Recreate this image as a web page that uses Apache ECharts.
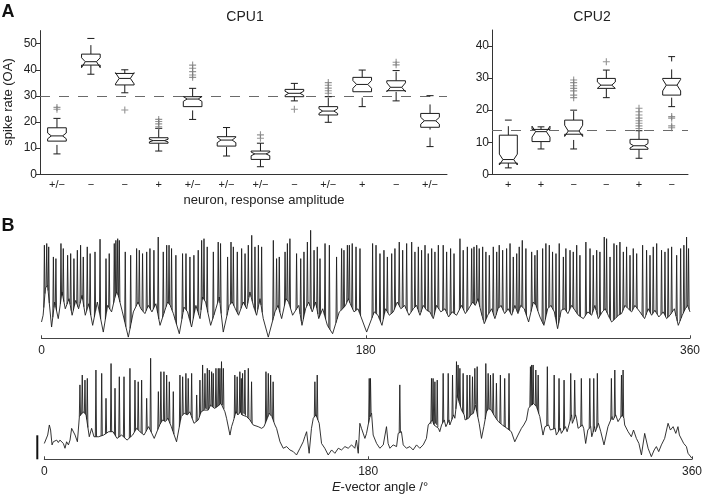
<!DOCTYPE html>
<html>
<head>
<meta charset="utf-8">
<script src="https://cdn.jsdelivr.net/npm/echarts@6/dist/echarts.min.js"></script>
<style>
  html, body { margin: 0; padding: 0; background: #fff; }
  #main { width: 705px; height: 497px; }
</style>
</head>
<body>
<div id="main"></div>
<script>
// ---- panel A: spike rates (OA) per neuron ----
const cpu1Labels = ['+/−', '−', '−', '+', '+/−', '+/−', '+/−', '−', '+/−', '+', '−', '+/−']
// [lower whisker, q1, median, q3, upper whisker, notch low, notch high]
const cpu1Boxes = [
  [7.8, 12.7, 14.7, 17.8, 21.4, 13.6, 15.8],
  [38.3, 41.8, 43.1, 46.0, 52.0, 40.8, 44.6],
  [31.2, 34.2, 36.7, 38.6, 40.0, 34.6, 38.9],
  [8.9, 11.9, 12.9, 14.0, 17.6, 12.4, 13.4],
  [21.0, 25.9, 28.8, 29.7, 32.9, 27.9, 29.8],
  [7.0, 10.8, 13.1, 14.4, 17.9, 12.1, 14.2],
  [2.9, 5.7, 7.8, 8.9, 11.9, 7.1, 8.5],
  [28.1, 29.7, 31.0, 32.5, 34.8, 30.2, 31.8],
  [19.9, 22.7, 24.2, 25.9, 29.7, 23.3, 25.1],
  [25.9, 31.6, 34.4, 37.1, 39.9, 32.9, 35.9],
  [28.1, 32.0, 33.3, 35.8, 39.7, 31.6, 35.0],
  [10.6, 18.0, 20.5, 23.3, 30.1, 19.2, 21.8]
]
const cpu1Outliers = [
  [25.6, 24.9], [], [24.6], [21.0, 20.2, 19.3, 18.2], [41.8, 40.6, 39.3, 38.0, 37.1], [],
  [15.1, 13.8], [24.9], [35.1, 34.1, 33.0, 32.0, 31.0], [], [42.9, 41.9], []
]
const cpu1Ref = 30

const cpu2Labels = ['+', '+', '−', '−', '+', '−']
const cpu2Boxes = [
  [2.0, 3.5, 4.6, 12.2, 16.9, 2.9, 6.3],
  [7.9, 10.2, 13.3, 14.0, 14.8, 11.6, 15.0],
  [7.9, 12.5, 13.5, 16.9, 20.0, 11.8, 15.3],
  [23.9, 26.8, 27.8, 29.9, 32.5, 26.8, 28.8],
  [5.0, 7.8, 8.9, 10.9, 13.6, 8.2, 9.6],
  [21.1, 24.7, 27.8, 29.9, 36.7, 26.0, 29.6]
]
const cpu2Outliers = [
  [], [], [29.4, 28.6, 27.6, 26.8, 26.0, 24.7, 23.9], [35.1],
  [20.6, 19.5, 18.5, 17.5, 16.7, 15.9, 15.1, 14.3], [18.0, 17.5, 15.1, 14.5]
]
const cpu2Ref = 13.6

// ---- panel B: membrane potential (mV, arbitrary offset) vs E-vector angle ----
// vertices of each recording: spike peaks and the troughs between them
const angleTicks = [0, 180, 360]
const scaleBarMv = 10
const spikeMinMv = 22
const trace1 = [
  [0, 6.8], [0.9, 9.6], [1.6, 38.8], [2.2, 21], [2.9, 39.5], [3.4, 22], [4.0, 38.1], [5.6, 4.7],
  [6.6, 33.9], [7.3, 15.1], [8.0, 33.2], [9.3, 8.2], [10.8, 39.5], [11.4, 19.3], [12.1, 37.4], [13.2, 12.3],
  [14.5, 34.6], [15.3, 16.5], [16.2, 35.3], [17.0, 9.6], [18.0, 33.2], [19.0, 15.8], [19.9, 36.7], [20.6, 12.3],
  [21.7, 38.8], [22.5, 17.9], [23.2, 33.9], [24.3, 9.6], [25.4, 38.1], [26.2, 14.4], [27.0, 35.3], [28.4, 5.4],
  [29.7, 36.0], [31.0, 15.1], [32.5, 41.3], [34.3, 2.6], [35.8, 33.2], [36.7, 13.7], [37.6, 35.3], [38.9, 11.0],
  [40.4, 39.5], [40.8, 17.2], [41.3, 40.8], [41.7, 19.3], [42.3, 41.5], [42.6, 17.9], [43.2, 40.8], [44.9, 11.0],
  [46.5, 36.0], [48.2, 0.5], [49.5, 34.6], [51.0, 11.0], [52.8, 37.4], [53.6, 15.1], [54.3, 36.7], [55.2, 12.3],
  [56.1, 35.3], [57.4, 10.3], [58.4, 36.0], [59.3, 13.7], [60.2, 37.4], [61.3, 11.0], [62.4, 36.7], [63.5, 14.4],
  [64.8, 42.2], [65.8, 5.4], [67.6, 36.0], [68.5, 11.7], [69.5, 38.8], [70.0, 15.1], [70.8, 38.8], [71.5, 13.7],
  [72.2, 37.4], [73.2, 10.3], [74.6, 34.6], [76.5, 1.9], [78.3, 35.3], [79.1, 13.0], [80.2, 35.3], [81.1, 11.0],
  [82.4, 33.9], [83.3, 4.7], [84.6, 34.6], [85.7, 13.7], [87.0, 36.7], [88.0, 8.2], [88.9, 40.8], [89.4, 17.2],
  [90.2, 41.5], [91.1, 15.1], [92.0, 38.1], [93.9, 5.4], [95.4, 36.0], [96.8, 12.3], [98.1, 40.1], [98.7, 17.2],
  [99.4, 39.5], [100.9, 2.6], [103.3, 33.9], [104.2, 13.7], [105.2, 40.1], [105.9, 15.1], [106.5, 38.1], [107.6, 12.3],
  [108.7, 36.0], [109.4, 9.6], [111.1, 37.4], [112.0, 15.1], [113.0, 35.3], [113.9, 12.3], [114.8, 38.8], [115.7, 19.3],
  [116.7, 42.9], [117.6, 13.7], [118.5, 38.1], [119.4, 9.6], [120.4, 38.8], [121.3, 16.5], [122.2, 38.1], [123.1, 8.2],
  [125.9, 0.5], [128.7, 40.8], [129.6, 11.0], [130.5, 33.2], [131.3, 13.7], [132.0, 33.9], [133.3, 8.2], [135.2, 36.0],
  [135.7, 16.5], [136.5, 39.5], [137.2, 15.1], [137.9, 41.5], [139.4, 9.6], [141.6, 35.3], [142.8, 13.7], [143.9, 33.2],
  [144.6, 5.4], [145.7, 36.0], [146.6, 12.3], [147.6, 40.1], [148.3, 15.1], [149.4, 45.0], [150.3, 11.0], [151.3, 36.7],
  [152.2, 15.1], [153.1, 38.1], [153.9, 8.2], [154.6, 33.2], [156.1, 12.3], [157.4, 39.5], [158.7, 5.4], [159.8, 38.8],
  [161.6, 1.9], [163.8, 33.9], [165.3, 11.0], [166.6, 37.4], [167.2, 12.3], [167.9, 36.7], [168.8, 13.7], [169.8, 38.8],
  [170.3, 16.5], [170.9, 38.8], [171.8, 13.7], [172.5, 39.5], [173.5, 11.0], [174.6, 38.1], [175.7, 12.3], [176.8, 37.4],
  [180.5, 2.6], [183.8, 39.5], [184.7, 11.0], [185.7, 38.8], [186.8, 9.6], [187.9, 35.3], [189.0, 5.4], [190.1, 36.7],
  [191.0, 12.3], [192.0, 33.9], [193.1, 9.6], [194.4, 35.3], [195.3, 11.0], [196.2, 37.4], [197.5, 15.1], [198.6, 40.1],
  [199.5, 12.3], [200.5, 36.7], [201.6, 13.7], [202.7, 39.5], [204.0, 9.6], [205.5, 40.1], [206.4, 12.3], [207.3, 36.0],
  [208.2, 13.7], [209.2, 38.1], [210.1, 9.6], [211.0, 36.7], [211.9, 13.7], [212.9, 38.8], [213.8, 11.7], [214.7, 35.3],
  [215.6, 11.0], [216.6, 37.4], [217.5, 8.2], [218.4, 36.0], [219.3, 13.7], [220.3, 38.8], [221.7, 11.0], [223.0, 38.8],
  [224.0, 12.3], [224.9, 36.0], [226.0, 8.9], [227.1, 37.4], [228.0, 11.0], [229.0, 35.3], [230.4, 9.6], [232.3, 41.5],
  [233.2, 13.7], [234.1, 36.7], [235.3, 10.3], [236.4, 38.1], [237.1, 12.3], [238.8, 37.4], [239.3, 15.1], [240.1, 38.1],
  [240.8, 13.7], [241.6, 38.8], [242.3, 16.5], [243.0, 37.4], [244.0, 11.0], [244.9, 38.1], [245.8, 6.1], [246.7, 36.0],
  [247.7, 9.6], [248.6, 34.6], [249.9, 12.3], [250.8, 38.1], [251.7, 8.2], [252.7, 36.0], [253.4, 12.3], [254.1, 38.8],
  [255.1, 13.7], [256.0, 36.7], [257.1, 10.3], [258.2, 37.4], [259.1, 12.3], [260.1, 39.5], [261.0, 9.6], [261.9, 33.9],
  [262.8, 13.7], [263.8, 35.3], [264.5, 10.3], [265.2, 38.1], [266.0, 13.7], [266.9, 40.8], [268.0, 12.3], [268.9, 37.4],
  [270.4, 6.8], [272.1, 36.0], [273.0, 15.1], [273.9, 34.6], [274.5, 13.7], [275.2, 36.7], [276.7, 8.9], [278.2, 37.4],
  [278.9, 5.4], [280.0, 39.5], [281.0, 12.3], [281.9, 38.8], [282.8, 13.7], [283.7, 36.0], [284.7, 11.0], [285.6, 35.3],
  [286.5, 4.0], [287.4, 39.5], [288.5, 11.7], [289.7, 33.9], [290.4, 12.3], [291.1, 37.4], [292.2, 10.3], [293.4, 36.7],
  [294.3, 13.7], [295.2, 36.0], [296.1, 11.7], [297.1, 38.8], [298.0, 9.6], [298.9, 34.6], [300.8, 8.2], [302.2, 40.1],
  [303.3, 11.0], [304.5, 37.4], [305.4, 9.6], [306.3, 34.6], [307.2, 13.7], [308.2, 36.7], [309.1, 8.2], [310.0, 36.0],
  [311.3, 11.0], [312.4, 42.2], [313.0, 12.3], [313.7, 41.5], [314.6, 9.6], [315.6, 33.9], [316.5, 6.8], [317.8, 39.5],
  [318.5, 8.2], [319.3, 38.8], [320.2, 9.6], [321.1, 40.1], [322.0, 10.3], [323.0, 36.0], [323.9, 13.7], [324.8, 38.1],
  [325.7, 12.3], [326.7, 34.6], [327.6, 11.0], [328.5, 37.4], [329.4, 13.7], [330.4, 35.3], [332.2, 11.0], [333.7, 38.8],
  [334.8, 8.2], [335.9, 36.7], [336.8, 12.3], [337.8, 34.6], [338.7, 9.6], [339.6, 38.1], [340.5, 11.7], [341.5, 39.5],
  [342.7, 8.9], [344.2, 36.7], [345.2, 11.0], [346.1, 36.0], [347.0, 8.2], [347.9, 37.4], [348.9, 9.6], [349.8, 38.1],
  [351.3, 12.3], [352.6, 34.6], [353.5, 5.4], [354.8, 37.4], [355.7, 9.6], [356.6, 38.8], [357.4, 12.3], [358.1, 42.2],
  [358.7, 13.7], [359.2, 37.4], [360, 11.0]
]
const trace2 = [
  [0, 6.6], [0.9, 6.0], [1.9, 10.1], [2.8, 14.3], [3.5, 12.2], [4.3, 6.0], [5.0, 7.3], [5.9, 6.6],
  [6.9, 8.0], [7.8, 7.0], [8.7, 8.0], [9.6, 8.7], [10.6, 6.6], [11.5, 4.6], [12.4, 7.3], [13.4, 6.0],
  [14.3, 8.0], [15.2, 12.9], [16.1, 13.6], [17.1, 10.1], [18.4, 7.3], [18.9, 8.0], [19.5, 17.8], [19.8, 31.0],
  [20.4, 18.5], [21.1, 35.1], [21.7, 19.8], [22.6, 33.0], [23.2, 18.5], [23.9, 33.7], [25.0, 9.4], [26.3, 12.9],
  [27.6, 9.4], [28.7, 37.2], [30.2, 9.4], [31.9, 35.8], [33.0, 10.1], [34.3, 25.4], [35.8, 11.5], [37.1, 39.9],
  [38.2, 11.5], [39.3, 29.6], [40.4, 8.7], [41.7, 34.4], [43.0, 10.1], [44.3, 34.4], [46.0, 8.0], [47.6, 37.9],
  [49.1, 10.1], [50.4, 33.0], [51.3, 12.9], [52.2, 32.3], [53.2, 11.5], [54.1, 33.0], [55.4, 10.1], [56.9, 25.4],
  [58.0, 13.6], [59.1, 42.1], [61.1, 8.7], [63.4, 28.2], [64.1, 14.3], [64.8, 36.5], [65.8, 16.4], [66.5, 36.5],
  [67.3, 15.7], [68.0, 35.1], [68.7, 17.1], [69.5, 32.3], [70.6, 13.6], [71.7, 28.2], [73.5, 7.3], [75.4, 35.1],
  [76.1, 17.8], [76.9, 34.4], [77.8, 19.2], [78.7, 35.8], [79.5, 18.5], [80.0, 33.7], [80.9, 19.8], [81.9, 35.8],
  [83.2, 15.0], [84.7, 26.8], [85.6, 16.4], [86.5, 33.0], [87.2, 19.8], [88.0, 39.3], [88.7, 20.5], [89.3, 35.8],
  [89.8, 21.2], [90.6, 37.9], [91.1, 20.5], [91.7, 37.2], [92.4, 22.6], [93.0, 36.5], [93.5, 21.9], [93.9, 35.8],
  [94.6, 21.2], [95.4, 37.9], [96.1, 21.9], [96.7, 37.9], [97.2, 22.6], [97.6, 37.9], [98.2, 23.3], [98.5, 40.7],
  [99.1, 22.6], [99.5, 37.9], [100.4, 19.8], [101.3, 17.1], [103.2, 10.1], [104.1, 13.6], [105.0, 15.7], [105.9, 35.1],
  [106.5, 19.8], [107.2, 34.4], [107.6, 18.5], [108.7, 36.5], [109.1, 19.8], [109.5, 33.7], [109.9, 18.5], [110.2, 35.8],
  [110.6, 19.2], [111.5, 37.2], [112.4, 17.8], [113.4, 37.9], [114.3, 16.4], [115.2, 32.3], [116.1, 14.3], [117.1, 15.0],
  [118.9, 13.6], [120.8, 12.9], [122.1, 13.6], [123.2, 36.5], [123.6, 16.4], [124.5, 35.8], [125.0, 19.2], [125.8, 35.1],
  [126.5, 17.8], [127.2, 32.3], [128.2, 14.3], [129.1, 12.9], [131.0, 7.3], [132.8, 4.6], [134.7, 5.3], [136.5, 3.9],
  [138.4, 3.2], [140.2, 1.8], [142.1, 4.6], [143.9, 7.3], [144.8, 9.4], [145.8, 11.5], [147.2, 2.5], [148.5, 12.9],
  [149.5, 17.1], [150.4, 32.3], [151.0, 18.5], [151.7, 35.1], [152.8, 15.0], [154.1, 6.6], [155.9, 4.6], [157.8, 1.8],
  [159.7, 3.9], [161.5, 2.5], [163.4, 4.6], [165.2, 3.9], [167.1, 5.3], [168.9, 4.6], [170.8, 6.0], [172.6, 4.6],
  [173.5, 8.0], [174.5, 2.5], [175.4, 15.0], [176.3, 12.9], [178.2, 8.7], [179.1, 10.8], [180.0, 14.3], [180.6, 33.7],
  [181.0, 17.8], [181.3, 33.7], [181.9, 19.2], [182.8, 10.1], [184.7, 6.6], [186.5, 4.6], [188.4, 6.0], [190.2, 13.6],
  [191.1, 6.6], [192.1, 4.6], [193.9, 6.0], [195.8, 5.3], [196.7, 10.8], [197.6, 31.0], [198.5, 11.5], [199.5, 6.0],
  [201.3, 4.6], [203.2, 5.3], [205.0, 3.9], [206.9, 6.0], [208.7, 4.6], [210.6, 6.0], [212.4, 8.7], [213.4, 14.3],
  [214.3, 13.6], [215.2, 33.7], [215.7, 16.4], [216.1, 33.7], [216.6, 14.3], [217.1, 32.3], [217.6, 15.0], [218.4, 33.0],
  [219.1, 12.9], [219.8, 11.5], [220.8, 14.3], [221.7, 35.8], [222.3, 16.4], [223.2, 13.6], [224.5, 35.8], [225.0, 16.4],
  [225.4, 14.3], [226.9, 35.1], [227.5, 18.5], [228.2, 17.1], [229.1, 40.7], [229.6, 26.8], [230.0, 39.3], [230.5, 24.0],
  [231.0, 37.9], [231.9, 20.5], [232.8, 35.8], [233.4, 18.5], [233.9, 16.4], [235.0, 35.1], [235.8, 17.1], [236.5, 35.1],
  [237.0, 18.5], [238.0, 34.4], [238.5, 19.2], [239.3, 37.9], [239.6, 22.6], [240.6, 38.6], [241.7, 15.0], [243.0, 8.7],
  [244.3, 13.6], [245.4, 39.9], [245.8, 19.8], [246.7, 35.8], [247.0, 21.2], [248.0, 35.1], [248.4, 20.5], [249.5, 35.8],
  [250.4, 17.8], [251.3, 31.7], [252.4, 15.7], [253.5, 35.1], [254.6, 14.3], [255.9, 33.7], [257.2, 12.9], [258.3, 35.8],
  [259.6, 11.5], [261.5, 7.3], [263.3, 10.1], [265.2, 12.9], [266.5, 14.3], [268.0, 16.4], [269.1, 21.2], [270.2, 38.6],
  [270.6, 22.6], [270.9, 39.3], [271.3, 22.6], [271.7, 39.3], [272.0, 23.3], [273.2, 37.2], [273.6, 21.9], [274.5, 35.1],
  [275.4, 17.8], [277.2, 10.1], [278.3, 13.6], [279.6, 38.6], [280.3, 14.3], [281.3, 12.2], [283.4, 35.1], [284.0, 12.9],
  [284.6, 10.1], [286.1, 33.7], [286.8, 12.9], [287.4, 10.8], [288.9, 33.0], [289.7, 13.6], [290.6, 11.5], [292.6, 35.8],
  [293.1, 18.5], [293.5, 15.0], [294.8, 33.0], [295.3, 18.5], [295.8, 17.1], [296.7, 12.9], [298.5, 33.7], [299.1, 14.3],
  [299.8, 12.9], [300.9, 6.6], [302.1, 12.2], [303.2, 33.7], [303.7, 13.6], [304.3, 9.4], [305.4, 33.7], [305.9, 13.6],
  [306.3, 11.5], [307.4, 35.8], [308.0, 15.0], [309.3, 11.5], [311.1, 6.0], [313.3, 13.6], [315.2, 33.7], [315.6, 17.8],
  [316.1, 16.4], [317.1, 37.2], [317.6, 18.5], [318.9, 15.7], [320.8, 35.1], [321.2, 18.5], [321.7, 37.2], [322.2, 17.1],
  [322.6, 14.3], [324.5, 11.5], [326.3, 9.4], [327.5, 12.2], [329.1, 8.7], [330.5, 6.6], [331.9, 1.8], [333.7, 10.8],
  [335.6, 4.6], [337.4, 1.1], [339.0, 3.9], [340.2, 5.3], [341.5, 3.2], [343.0, 6.0], [344.8, 8.7], [346.7, 15.0],
  [348.0, 12.2], [349.5, 13.6], [351.0, 10.8], [352.2, 13.6], [353.0, 10.1], [354.1, 10.1], [355.4, 6.6], [356.9, 5.3],
  [357.8, 2.5], [358.7, 3.2], [360.0, 0.4]
]

const font = 'Liberation Sans, Arial, Helvetica, sans-serif'
const ink = '#1a1a1a'
const traceInk = '#1e1e1e'

// notched box drawn from the axis scales
function renderBox (params, api) {
  const i = api.value(0)
  const y = k => api.coord([i, api.value(k)])[1]
  const cx = api.coord([i, 0])[0]
  const w = api.size([1, 0])[0] * 0.275
  const ind = w * 0.4
  const cap = w * 0.38
  const lo = y(1), q1 = y(2), med = y(3), q3 = y(4), hi = y(5), nLo = y(6), nHi = y(7)
  const L = cx - w, R = cx + w
  const st = { stroke: ink, lineWidth: 1, fill: null }
  const dash = { stroke: ink, lineWidth: 1, fill: null, lineDash: [9, 8] }
  return {
    type: 'group',
    children: [
      { type: 'line', shape: { x1: cx, y1: q3, x2: cx, y2: hi }, style: dash },
      { type: 'line', shape: { x1: cx, y1: lo, x2: cx, y2: q1 }, style: dash },
      { type: 'line', shape: { x1: cx - cap, y1: hi, x2: cx + cap, y2: hi }, style: st },
      { type: 'line', shape: { x1: cx - cap, y1: lo, x2: cx + cap, y2: lo }, style: st },
      {
        type: 'polygon',
        shape: { points: [[L, q1], [L, nLo], [L + ind, med], [L, nHi], [L, q3], [R, q3], [R, nHi], [R - ind, med], [R, nLo], [R, q1]] },
        style: { stroke: ink, lineWidth: 1, fill: '#fff' }
      },
      { type: 'line', shape: { x1: L + ind, y1: med, x2: R - ind, y2: med }, style: st }
    ]
  }
}

const plusSymbol = 'path://M4.2,0H5.8V4.2H10V5.8H5.8V10H4.2V5.8H0V4.2H4.2Z'

function boxSeries (boxes, outliers, ref, idx) {
  return [
    {
      type: 'custom',
      xAxisIndex: idx,
      yAxisIndex: idx,
      renderItem: renderBox,
      encode: { x: 0, y: [1, 2, 3, 4, 5] },
      data: boxes.map((b, i) => [i].concat(b)),
      z: 3,
      markLine: {
        silent: true,
        symbol: 'none',
        label: { show: false },
        lineStyle: { color: '#6a6a6a', width: 1, type: [10, 9] },
        data: [{ yAxis: ref }],
        z: 1
      }
    },
    {
      type: 'scatter',
      xAxisIndex: idx,
      yAxisIndex: idx,
      symbol: plusSymbol,
      symbolSize: 7,
      itemStyle: { color: '#7a7a7a' },
      data: outliers.flatMap((vals, i) => vals.map(v => [i, v])),
      z: 4
    }
  ]
}

// split a recording into its slow trace (troughs) and its spike peaks;
// each spike keeps the neighbouring trough vertices it rises from and falls to
function splitTrace (verts) {
  const base = []
  const spikes = []
  verts.forEach((v, i) => {
    const prev = verts[i - 1]
    const next = verts[i + 1]
    if (prev && next && v[1] >= spikeMinMv && v[1] > prev[1] && v[1] > next[1]) {
      spikes.push([v[0], v[1], prev[0], prev[1], next[0], next[1]])
    } else {
      base.push(v)
    }
  })
  return { base, spikes }
}

// a spike is a thin peak standing on the slow-trace segment under it
function renderSpike (params, api) {
  const pk = api.coord([api.value(0), api.value(1)])
  const pv = api.coord([api.value(2), api.value(3)])
  const nx = api.coord([api.value(4), api.value(5)])
  const on = x => pv[1] + (nx[1] - pv[1]) * (x - pv[0]) / (nx[0] - pv[0])
  const half = 0.6
  const xl = pk[0] - half
  const xr = pk[0] + half
  return {
    type: 'polyline',
    shape: { points: [[xl, on(xl)], pk, [xr, on(xr)]] },
    style: { stroke: traceInk, lineWidth: 0.9, fill: null }
  }
}

const catAxis = (labels, idx) => ({
  type: 'category',
  gridIndex: idx,
  data: labels,
  boundaryGap: true,
  axisLine: { lineStyle: { color: '#333', width: 1 } },
  axisTick: { show: false },
  axisLabel: { fontSize: 11, color: '#222', margin: 5, fontFamily: font }
})
const rateAxis = (max, idx) => ({
  type: 'value',
  gridIndex: idx,
  min: 0,
  max: max,
  interval: 10,
  axisLine: { show: true, lineStyle: { color: '#333', width: 1 } },
  axisTick: { show: true, length: 4, lineStyle: { color: '#333' } },
  axisLabel: { fontSize: 12, color: '#222', margin: 3, fontFamily: font, showMaxLabel: false },
  splitLine: { show: false }
})
const angleAxis = idx => ({
  type: 'value',
  gridIndex: idx,
  min: 0,
  max: 360,
  interval: 180,
  axisLine: { lineStyle: { color: '#444', width: 1 } },
  axisTick: { show: true, inside: true, length: 3, lineStyle: { color: '#444' } },
  axisLabel: { fontSize: 12, color: '#222', margin: 6, fontFamily: font, customValues: angleTicks },
  splitLine: { show: false }
})
const vmAxis = (max, idx) => ({ type: 'value', gridIndex: idx, min: 0, max: max, show: false })

function traceSeries (verts, idx) {
  const parts = splitTrace(verts)
  return [
    {
      type: 'line',
      xAxisIndex: idx,
      yAxisIndex: idx,
      data: parts.base,
      showSymbol: false,
      symbol: 'none',
      lineStyle: { color: traceInk, width: 0.9 },
      z: 2
    },
    {
      type: 'custom',
      xAxisIndex: idx,
      yAxisIndex: idx,
      renderItem: renderSpike,
      encode: { x: [0, 2, 4], y: [1, 3, 5] },
      data: parts.spikes,
      z: 2
    }
  ]
}

const txt = (x, y, text, size, extra) => ({
  type: 'text',
  x: x,
  y: y,
  style: Object.assign({ text: text, fontSize: size, fontFamily: font, fill: '#222', textAlign: 'center', textVerticalAlign: 'middle' }, extra || {})
})

const chart = echarts.init(document.getElementById('main'))
chart.setOption({
  animation: false,
  backgroundColor: '#fff',
  grid: [
    { left: 40, right: 258, top: 30.6, bottom: 322.7 },
    { left: 492, right: 17, top: 30, bottom: 322.7 },
    { left: 41.5, right: 15, top: 227.9, bottom: 158.7 },
    { left: 44.3, right: 12.7, top: 353.7, bottom: 37.7 }
  ],
  xAxis: [catAxis(cpu1Labels, 0), catAxis(cpu2Labels, 1), angleAxis(2), angleAxis(3)],
  yAxis: [rateAxis(55, 0), rateAxis(45, 1), vmAxis(46, 2), vmAxis(44, 3)],
  series: [
    ...boxSeries(cpu1Boxes, cpu1Outliers, cpu1Ref, 0),
    ...boxSeries(cpu2Boxes, cpu2Outliers, cpu2Ref, 1),
    ...traceSeries(trace1, 2),
    ...traceSeries(trace2, 3)
  ],
  graphic: [
    txt(8, 12, 'A', 18, { fontWeight: 'bold', fill: '#111' }),
    txt(8, 226, 'B', 18, { fontWeight: 'bold', fill: '#111' }),
    txt(245, 17, 'CPU1', 14),
    txt(592, 17, 'CPU2', 14),
    txt(264, 200, 'neuron, response amplitude', 13),
    Object.assign(txt(8, 102, 'spike rate (OA)', 13), { rotation: Math.PI / 2 }),
    txt(380, 487, '{i|E}-vector angle /°', 13, { rich: { i: { fontStyle: 'italic', fontSize: 13, fontFamily: font, fill: '#222' } } })
  ]
})

// 10 mV scale bar next to the lower trace, placed through the trace's own scale
const p0 = chart.convertToPixel({ gridIndex: 3 }, [0, 0])
const p1 = chart.convertToPixel({ gridIndex: 3 }, [0, scaleBarMv])
chart.setOption({
  graphic: [{
    id: 'scalebar',
    type: 'line',
    shape: { x1: p0[0] - 7, y1: p0[1], x2: p1[0] - 7, y2: p1[1] },
    style: { stroke: '#111', lineWidth: 2 }
  }]
})
</script>
</body>
</html>
